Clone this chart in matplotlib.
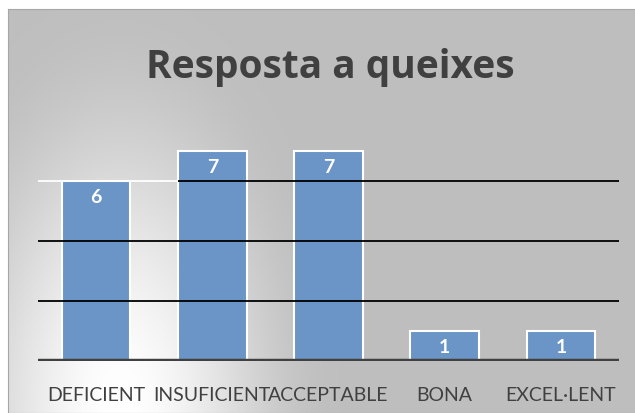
#!/usr/bin/env python3
"""Bar chart: Resposta a queixes."""

import numpy as np
import matplotlib
matplotlib.use("Agg")
import matplotlib.pyplot as plt

categories = ["DEFICIENT", "INSUFICIENT", "ACCEPTABLE", "BONA", "EXCEL·LENT"]
counts = [6, 7, 7, 1, 1]
gridlines = [2, 4, 6]

W, H = 635, 413
BAR_COLOR = "#6a95c6"
TEXT_COLOR = "#404040"
BAR_WIDTH = 0.59

plt.rcParams["font.family"] = ["Lato", "DejaVu Sans"]


def main():
    fig = plt.figure(figsize=(W / 100, H / 100), dpi=100)

    # background panel with a soft light spot in the lower left
    x0, y0 = 8, 9
    bg = fig.add_axes([x0 / W, 0, (W - x0) / W, (H - y0) / H], zorder=-5)
    xs = np.arange(x0, W) + 0.5
    ys = np.arange(y0, H) + 0.5
    xx, yy = np.meshgrid(xs, ys)
    d = np.sqrt(((xx - 120) / 220) ** 2 + ((yy - 410) / 420) ** 2)
    t = 1 - np.clip(d, 0, 1)
    t = t * t * (3 - 2 * t)
    val = 0.749 + 0.251 * t
    bg.imshow(np.dstack([val, val, val]), aspect="auto", interpolation="bilinear")
    bg.set_xticks([])
    bg.set_yticks([])
    for s in bg.spines.values():
        s.set_color("#a6a6a6")
        s.set_linewidth(0.8)

    ax = fig.add_axes([38 / W, (H - 361) / H, (619 - 38) / W, (361 - 121) / H])
    ax.patch.set_alpha(0)
    x = np.arange(len(categories))
    bars = ax.bar(x, counts, width=BAR_WIDTH, color=BAR_COLOR,
                  edgecolor="white", linewidth=1.5, zorder=2)

    for g in gridlines:
        if g == 6:
            ax.hlines(g, -0.5, 1 - BAR_WIDTH / 2, color="white", lw=1.3, zorder=3)
            ax.hlines(g, 1 - BAR_WIDTH / 2, len(categories) - 0.5, color="black",
                      lw=1.3, zorder=3)
        else:
            ax.hlines(g, -0.5, len(categories) - 0.5, color="black", lw=1.3, zorder=3)
    ax.hlines(0, -0.5, len(categories) - 0.5, color=TEXT_COLOR, lw=3.2, zorder=4)

    for b, v in zip(bars, counts):
        ax.annotate(str(v), (b.get_x() + b.get_width() / 2, v),
                    xytext=(0, -12), textcoords="offset points",
                    ha="center", va="center", color="white",
                    fontsize=14, fontweight="bold", zorder=5)

    ax.set_xlim(-0.5, len(categories) - 0.5)
    ax.set_ylim(0, 8)
    ax.set_xticks(x)
    ax.set_xticklabels(categories, fontsize=14, color=TEXT_COLOR)
    ax.tick_params(axis="x", length=0, pad=19)
    ax.set_yticks([])
    for s in ax.spines.values():
        s.set_visible(False)

    fig.text(330 / W, 1 - 78 / H, "Resposta a queixes", ha="center",
             va="baseline", fontsize=28, fontweight="bold", color=TEXT_COLOR,
             family=["Open Sans", "DejaVu Sans"])

    fig.savefig("out.png", dpi=100)


if __name__ == "__main__":
    main()
